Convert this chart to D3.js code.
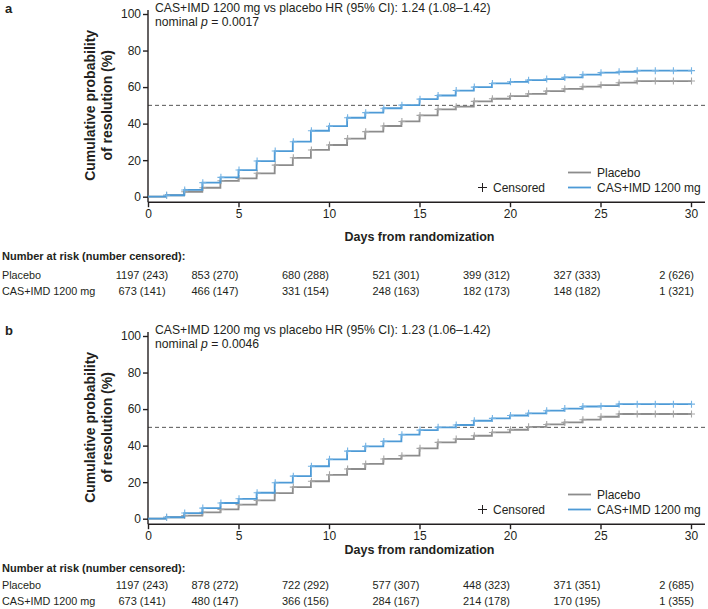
<!DOCTYPE html>
<html>
<head>
<meta charset="utf-8">
<script src="https://cdn.jsdelivr.net/npm/d3@7"></script>
<style>
  body { margin: 0; background: #fff; }
  svg { font-family: "Liberation Sans", Arial, sans-serif; }
  .narrow { font-family: "Liberation Sans Narrow", "Arial Narrow", "Liberation Sans", sans-serif; }
</style>
</head>
<body>
<svg id="chart" width="708" height="609"></svg>
<script>
// days of follow-up (step positions)
const days = [0, 1, 2, 3, 4, 5, 6, 7, 8, 9, 10, 11, 12, 13, 14, 15, 16, 17, 18, 19, 20,
  21, 22, 23, 24, 25, 26, 27, 28, 29, 30];

// panel a: cumulative probability of resolution (%)
const placeboA = [0, 0.8, 2.7, 4.9, 8.7, 10.0, 12.8, 17.3, 21.3, 25.6, 28.3, 31.8, 35.6, 38.7,
  41.2, 44.5, 47.8, 49.3, 52.2, 53.6, 55.0, 56.3, 57.8, 59.0, 60.2, 61.1, 62.4, 63.3, 63.3, 63.3, 63.3];
const casA = [0, 0.8, 3.7, 7.7, 10.6, 14.6, 19.5, 25.0, 30.1, 36.1, 38.6, 43.2, 46.0, 48.4,
  50.1, 53.4, 55.4, 58.1, 60.0, 62.0, 62.9, 63.8, 64.4, 65.3, 66.8, 67.9, 68.4, 69.0, 69.0, 69.0, 69.0];

// panel b
const placeboB = [0, 0.8, 1.7, 3.5, 5.1, 7.7, 10.0, 14.0, 17.3, 20.5, 24.0, 27.2, 30.0, 32.7,
  34.5, 38.5, 41.8, 43.6, 45.4, 47.2, 48.7, 50.3, 51.6, 52.7, 54.2, 55.8, 57.3, 57.3, 57.3, 57.3, 57.3];
const casB = [0, 0.8, 3.1, 5.8, 8.6, 10.9, 14.2, 19.7, 23.3, 28.7, 32.5, 37.0, 39.6, 42.3,
  46.0, 48.5, 50.0, 51.3, 53.6, 54.9, 56.5, 57.7, 59.1, 60.3, 61.4, 61.6, 62.7, 62.7, 62.7, 62.7, 62.7];

// censoring marks (days)
const censorDays = [1, 2, 3, 4, 5, 6, 7, 8, 9, 10, 11, 12, 13, 14, 15, 16, 17, 18, 19, 20,
  21, 22, 23, 24, 25, 26, 27, 28, 29, 30];

const xTicks = [0, 5, 10, 15, 20, 25, 30];
const yTicks = [0, 20, 40, 60, 80, 100];

// number at risk (number censored)
const riskPlaceboA = ["1197 (243)", "853 (270)", "680 (288)", "521 (301)", "399 (312)", "327 (333)", "2 (626)"];
const riskCasA = ["673 (141)", "466 (147)", "331 (154)", "248 (163)", "182 (173)", "148 (182)", "1 (321)"];
const riskPlaceboB = ["1197 (243)", "878 (272)", "722 (292)", "577 (307)", "448 (323)", "371 (351)", "2 (685)"];
const riskCasB = ["673 (141)", "480 (147)", "366 (156)", "284 (167)", "214 (178)", "170 (195)", "1 (355)"];

const groups = ["Placebo", "CAS+IMD 1200 mg"];

const GREY = "#8c8c8c";
const BLUE = "#4d9ad6";
const INK = "#231f20";

const svg = d3.select("#chart");

const x = d3.scaleLinear().domain([0, 30]).range([148, 691]);

function drawPanel(cfg) {
  const g = svg.append("g").attr("transform", `translate(0,${cfg.dy})`);
  const y = d3.scaleLinear().domain([0, 100]).range([196.7, 14]);
  const axisY = y(0) + 5.5;
  const L = cfg.rows; // baselines: title, header, placebo row, CAS row

  // panel letter
  g.append("text").attr("x", 5).attr("y", 13)
    .attr("font-weight", "bold").attr("font-size", 13).attr("fill", INK)
    .text(cfg.letter);

  // HR annotation
  g.append("text").attr("x", 155).attr("y", 11.5)
    .attr("font-size", 12.2).attr("fill", INK).text(cfg.hr);
  const p = g.append("text").attr("x", 155).attr("y", 26)
    .attr("font-size", 12.2).attr("fill", INK);
  p.append("tspan").text("nominal ");
  p.append("tspan").attr("font-style", "italic").text("p");
  p.append("tspan").text(" = " + cfg.p);

  // 50% reference line
  g.append("line")
    .attr("x1", x(0)).attr("x2", 705)
    .attr("y1", y(50)).attr("y2", y(50))
    .attr("stroke", "#555").attr("stroke-width", 1)
    .attr("stroke-dasharray", "4,3");

  // y axis
  const yAxis = g.append("g").attr("transform", `translate(${x(0)},0)`)
    .call(d3.axisLeft(y).tickValues(yTicks).tickSize(5).tickPadding(2));
  yAxis.select(".domain").attr("d", `M0,${y(100) - 4}V${axisY}`);
  yAxis.selectAll("path, line").attr("stroke", INK).attr("stroke-width", 1.4);
  yAxis.selectAll("text").attr("font-size", 12).attr("fill", INK)
    .attr("font-family", "'Liberation Sans', Arial, sans-serif");

  // x axis
  const xAxis = g.append("g").attr("transform", `translate(0,${axisY})`)
    .call(d3.axisBottom(x).tickValues(xTicks).tickSize(5).tickPadding(2));
  xAxis.select(".domain").attr("d", `M${x(0)},0H705`);
  xAxis.selectAll("path, line").attr("stroke", INK).attr("stroke-width", 1.4);
  xAxis.selectAll("text").attr("font-size", 12).attr("fill", INK)
    .attr("font-family", "'Liberation Sans', Arial, sans-serif");

  // axis titles
  const yt = g.append("text")
    .attr("transform", `translate(95,${y(50)}) rotate(-90)`)
    .attr("text-anchor", "middle").attr("font-weight", "bold")
    .attr("font-size", 14).attr("fill", INK);
  yt.append("tspan").attr("x", 0).attr("dy", 0).text("Cumulative probability");
  yt.append("tspan").attr("x", 0).attr("dy", 16.5).text("of resolution (%)");

  g.append("text").attr("x", x(15)).attr("y", L[0])
    .attr("text-anchor", "middle").attr("font-weight", "bold")
    .attr("font-size", 12.5).attr("fill", INK)
    .text("Days from randomization");

  // curves
  const line = d3.line()
    .x((d) => x(d[0]))
    .y((d) => y(d[1]))
    .curve(d3.curveStepAfter);

  const series = [
    { name: groups[0], values: cfg.placebo, color: GREY, mark: "#a6a6a6" },
    { name: groups[1], values: cfg.cas, color: BLUE, mark: "#74b3e4" },
  ];

  series.forEach((s) => {
    const pts = days.map((d, i) => [d, s.values[i]]);
    g.append("path")
      .datum(pts)
      .attr("fill", "none")
      .attr("stroke", s.color)
      .attr("stroke-width", 1.8)
      .attr("d", line);

    g.append("g")
      .selectAll("path")
      .data(censorDays)
      .enter()
      .append("path")
      .attr("d", (d) => {
        const cx = x(d) + 0.5;
        const cy = y(s.values[days.indexOf(d)]);
        return `M${cx - 3.5},${cy}h7M${cx},${cy - 3.5}v7`;
      })
      .attr("stroke", s.mark)
      .attr("stroke-width", 1.1);
  });

  // legend
  const legY = [172.5, 187.5];
  series.forEach((s, i) => {
    g.append("line")
      .attr("x1", 568).attr("x2", 591)
      .attr("y1", legY[i]).attr("y2", legY[i])
      .attr("stroke", s.color).attr("stroke-width", 1.8);
    g.append("text").attr("x", 597).attr("y", legY[i] + 4.3)
      .attr("font-size", 12).attr("fill", INK).text(s.name);
  });
  g.append("path")
    .attr("d", `M478,187.5h9M482.5,183v9`)
    .attr("stroke", INK).attr("stroke-width", 1);
  g.append("text").attr("x", 493).attr("y", 191.8)
    .attr("font-size", 12).attr("fill", INK).text("Censored");

  // number at risk table
  g.append("text").attr("x", 2).attr("y", L[1])
    .attr("class", "narrow").attr("font-weight", "bold")
    .attr("font-size", 11).attr("fill", INK)
    .text("Number at risk (number censored):");

  const rows = [cfg.riskPlacebo, cfg.riskCas];
  const rowY = [L[2], L[3]];
  rows.forEach((r, i) => {
    g.append("text").attr("x", 2).attr("y", rowY[i])
      .attr("font-size", 10.8).attr("fill", INK).text(groups[i]);
    g.append("g")
      .selectAll("text")
      .data(r)
      .enter()
      .append("text")
      .attr("class", "narrow")
      .attr("x", (d, j) => (j === 0 ? x(xTicks[j]) - 6 : x(xTicks[j]) + (j === 6 ? 3 : 0)))
      .attr("y", rowY[i])
      .attr("text-anchor", (d, j) => (j === 0 ? "middle" : "end"))
      .attr("font-size", 11).attr("fill", INK)
      .text((d) => d);
  });
}

drawPanel({
  dy: 0, letter: "a", rows: [241, 260, 278.5, 294.5],
  hr: "CAS+IMD 1200 mg vs placebo HR (95% CI): 1.24 (1.08\u20131.42)",
  p: "0.0017",
  placebo: placeboA, cas: casA,
  riskPlacebo: riskPlaceboA, riskCas: riskCasA,
});

drawPanel({
  dy: 322, letter: "b", rows: [232, 249.5, 267, 282.5],
  hr: "CAS+IMD 1200 mg vs placebo HR (95% CI): 1.23 (1.06\u20131.42)",
  p: "0.0046",
  placebo: placeboB, cas: casB,
  riskPlacebo: riskPlaceboB, riskCas: riskCasB,
});
</script>
</body>
</html>
